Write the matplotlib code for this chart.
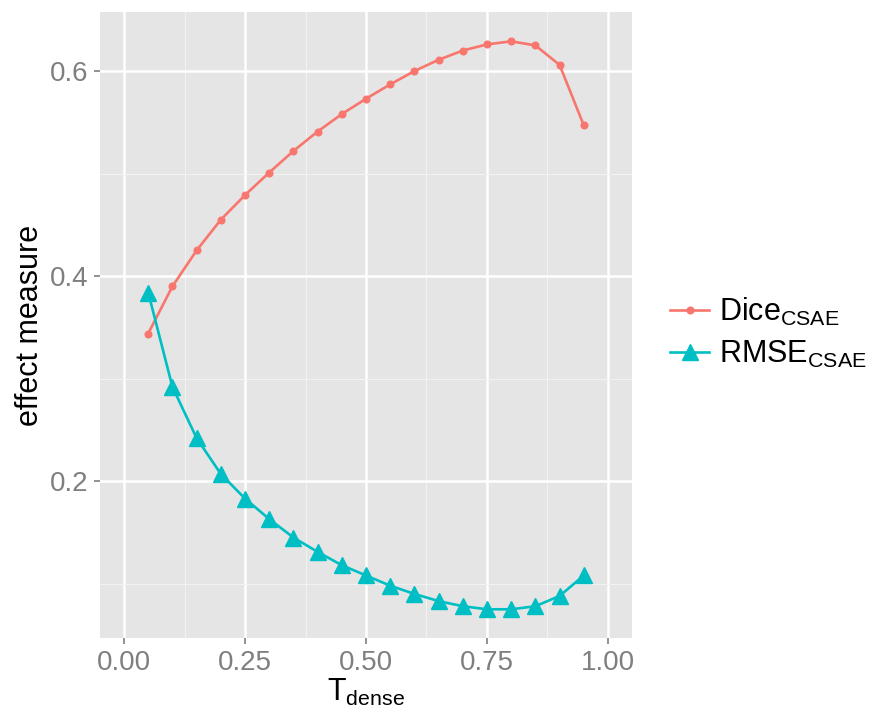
import matplotlib
matplotlib.use("Agg")
import matplotlib.pyplot as plt
from matplotlib.ticker import FixedLocator

plt.rcParams['font.family'] = ['Liberation Sans', 'DejaVu Sans']
plt.rcParams['mathtext.fontset'] = 'custom'
plt.rcParams['mathtext.rm'] = 'Liberation Sans'

t_dense = [0.05, 0.10, 0.15, 0.20, 0.25, 0.30, 0.35, 0.40, 0.45, 0.50,
           0.55, 0.60, 0.65, 0.70, 0.75, 0.80, 0.85, 0.90, 0.95]
dice = [0.344, 0.390, 0.425, 0.455, 0.479, 0.501, 0.522, 0.541, 0.558, 0.573,
        0.587, 0.600, 0.611, 0.620, 0.626, 0.629, 0.625, 0.606, 0.547]
rmse = [0.384, 0.292, 0.242, 0.207, 0.183, 0.163, 0.145, 0.131, 0.118, 0.108,
        0.098, 0.090, 0.083, 0.078, 0.075, 0.075, 0.078, 0.088, 0.108]
labels = [r'$\mathregular{Dice_{CSAE}}$', r'$\mathregular{RMSE_{CSAE}}$']
colors = ['#F8766D', '#00BFC4']
xticks = [0.00, 0.25, 0.50, 0.75, 1.00]
yticks = [0.2, 0.4, 0.6]

W, H = 871, 717
fig = plt.figure(figsize=(W/100, H/100), dpi=100)
ax = fig.add_axes([100/W, (H-638)/H, 532/W, 626/H])
ax.set_facecolor('#E5E5E5')

ax.plot(t_dense, dice, color=colors[0], lw=1.9, marker='o', ms=4.8, label=labels[0], zorder=3)
ax.plot(t_dense, rmse, color=colors[1], lw=1.9, marker='^', ms=11, label=labels[1], zorder=3)

ax.set_xlim(-0.0496, 1.0496)
ax.set_ylim(0.047, 0.6576)
ax.xaxis.set_major_locator(FixedLocator(xticks))
ax.yaxis.set_major_locator(FixedLocator(yticks))
ax.xaxis.set_minor_locator(FixedLocator([0.125, 0.375, 0.625, 0.875]))
ax.yaxis.set_minor_locator(FixedLocator([0.1, 0.3, 0.5]))
ax.set_xticklabels(['%.2f' % v for v in xticks])
ax.set_yticklabels(['%.1f' % v for v in yticks])
ax.grid(which='major', color='white', lw=1.8, zorder=0)
ax.grid(which='minor', color='#F2F2F2', lw=0.8, zorder=0)
ax.set_axisbelow(True)
for s in ax.spines.values():
    s.set_visible(False)
ax.tick_params(which='major', length=4.5, width=1.2, color='#7F7F7F',
               labelcolor='#7F7F7F', labelsize=20, pad=4)
ax.tick_params(which='minor', length=0)

ax.set_xlabel(r'$\mathregular{T_{dense}}$', fontsize=22, labelpad=1)
ax.set_ylabel('effect measure', fontsize=22, labelpad=3)

leg = ax.legend(loc='center left', bbox_to_anchor=(1.071, 0.487), frameon=False,
                fontsize=22, handlelength=1.3, handletextpad=0.3, labelspacing=0.35,
                borderpad=0, borderaxespad=0)

fig.savefig('out.png', dpi=100)
